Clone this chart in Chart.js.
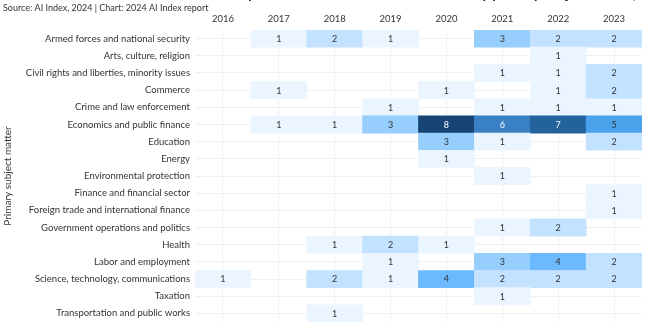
<!DOCTYPE html>
<html>
<head>
<meta charset="utf-8">
<script src="https://cdn.jsdelivr.net/npm/chart.js@4"></script>
<style>
  html, body { margin: 0; padding: 0; background: #fff; }
  #wrap { width: 660px; height: 326px; position: relative; }
</style>
</head>
<body>
<div id="wrap"><canvas id="heatChart" width="660" height="326"></canvas></div>
<script>
// Data
const years = [2016, 2017, 2018, 2019, 2020, 2021, 2022, 2023];

const subjects = [
    'Armed forces and national security',
    'Arts, culture, religion',
    'Civil rights and liberties, minority issues',
    'Commerce',
    'Crime and law enforcement',
    'Economics and public finance',
    'Education',
    'Energy',
    'Environmental protection',
    'Finance and financial sector',
    'Foreign trade and international finance',
    'Government operations and politics',
    'Health',
    'Labor and employment',
    'Science, technology, communications',
    'Taxation',
    'Transportation and public works'
];

// one row per subject, one column per year (null = no bills)
const counts = [
    [null, 1, 2, 1, null, 3, 2, 2],
    [null, null, null, null, null, null, 1, null],
    [null, null, null, null, null, 1, 1, 2],
    [null, 1, null, null, 1, null, 1, 2],
    [null, null, null, 1, null, 1, 1, 1],
    [null, 1, 1, 3, 8, 6, 7, 5],
    [null, null, null, null, 3, 1, null, 2],
    [null, null, null, null, 1, null, null, null],
    [null, null, null, null, null, 1, null, null],
    [null, null, null, null, null, null, null, 1],
    [null, null, null, null, null, null, null, 1],
    [null, null, null, null, null, 1, 2, null],
    [null, null, 1, 2, 1, null, null, null],
    [null, null, null, 1, null, 3, 4, 2],
    [1, null, 2, 1, 4, 2, 2, 2],
    [null, null, null, null, null, 1, null, null],
    [null, null, 1, null, null, null, null, null]
];

const sourceText = 'Source: AI Index, 2024 | Chart: 2024 AI Index report';
const titleText = 'Number of AI-related bills passed into law in the United States by primary subject matter, 2016–23';

// Colors
const heatColors = ['#ffffff', '#eaf5ff', '#c2e2ff', '#96cefd', '#6db9fd', '#4ba1ea', '#3a80c4', '#24629e', '#164474'];
const textDark = '#333333';
const gridColor = '#efefef';
const fontFamily = "'Lato', 'Liberation Sans', sans-serif";

// build cells: one floating bar per non-empty count
const cells = [];
subjects.forEach((subject, r) => {
    counts[r].forEach((v, c) => {
        if (v === null) return;
        cells.push({ y: subject, x: [years[c] - 0.5, years[c] + 0.5], v: v });
    });
});

const headerPlugin = {
    id: 'header',
    beforeDraw(chart) {
        const ctx = chart.ctx;
        ctx.save();
        ctx.fillStyle = '#222';
        ctx.font = `bold 14px ${fontFamily}`;
        ctx.textAlign = 'center';
        ctx.textBaseline = 'alphabetic';
        ctx.fillText(titleText, 390, -1);
        ctx.font = `9px ${fontFamily}`;
        ctx.fillStyle = '#333';
        ctx.textAlign = 'left';
        ctx.textBaseline = 'middle';
        ctx.fillText(sourceText, 3, 8);
        ctx.restore();
    }
};

const cellLabelPlugin = {
    id: 'cellLabels',
    afterDatasetsDraw(chart) {
        const ctx = chart.ctx;
        const meta = chart.getDatasetMeta(0);
        ctx.save();
        ctx.font = `9px ${fontFamily}`;
        ctx.textAlign = 'center';
        ctx.textBaseline = 'middle';
        meta.data.forEach((bar, i) => {
            const v = cells[i].v;
            const cx = (bar.x + bar.base) / 2;
            ctx.fillStyle = v >= 6 ? '#ffffff' : textDark;
            ctx.fillText(String(v), cx, bar.y + 0.5);
        });
        ctx.restore();
    }
};

new Chart(document.getElementById('heatChart'), {
    type: 'bar',
    data: {
        labels: subjects,
        datasets: [{
            data: cells,
            backgroundColor: (c) => {
                const raw = c.raw;
                return raw ? heatColors[raw.v] : '#fff';
            },
            borderWidth: 0,
            barPercentage: 1,
            categoryPercentage: 1,
            grouped: false
        }]
    },
    options: {
        indexAxis: 'y',
        responsive: false,
        animation: false,
        layout: { padding: { left: 0, right: 18, top: 0, bottom: 4 } },
        plugins: {
            legend: { display: false },
            tooltip: { enabled: false }
        },
        scales: {
            x: {
                type: 'linear',
                position: 'top',
                min: years[0] - 0.5,
                max: years[years.length - 1] + 0.5,
                afterBuildTicks: (scale) => {
                    scale.ticks = years.map(y => ({ value: y }));
                },
                afterFit: (scale) => {
                    scale.height = 30;
                    scale.paddingLeft = 0;
                    scale.paddingRight = 0;
                },
                ticks: {
                    color: textDark,
                    padding: 5,
                    font: { family: fontFamily, size: 9.5 },
                    callback: (v) => String(v)
                },
                grid: { color: gridColor, drawTicks: false },
                border: { display: false }
            },
            y: {
                type: 'category',
                afterFit: (scale) => {
                    scale.width = 195;
                    scale.paddingTop = 0;
                    scale.paddingBottom = 0;
                },
                ticks: {
                    color: textDark,
                    padding: 5,
                    font: { family: fontFamily, size: 9.5 }
                },
                grid: { color: gridColor, drawTicks: false, offset: false },
                border: { display: false },
                title: {
                    display: true,
                    text: 'Primary subject matter',
                    color: textDark,
                    font: { family: fontFamily, size: 10 },
                    padding: { top: 2, bottom: 0 }
                }
            }
        }
    },
    plugins: [headerPlugin, cellLabelPlugin]
});
</script>
</body>
</html>
